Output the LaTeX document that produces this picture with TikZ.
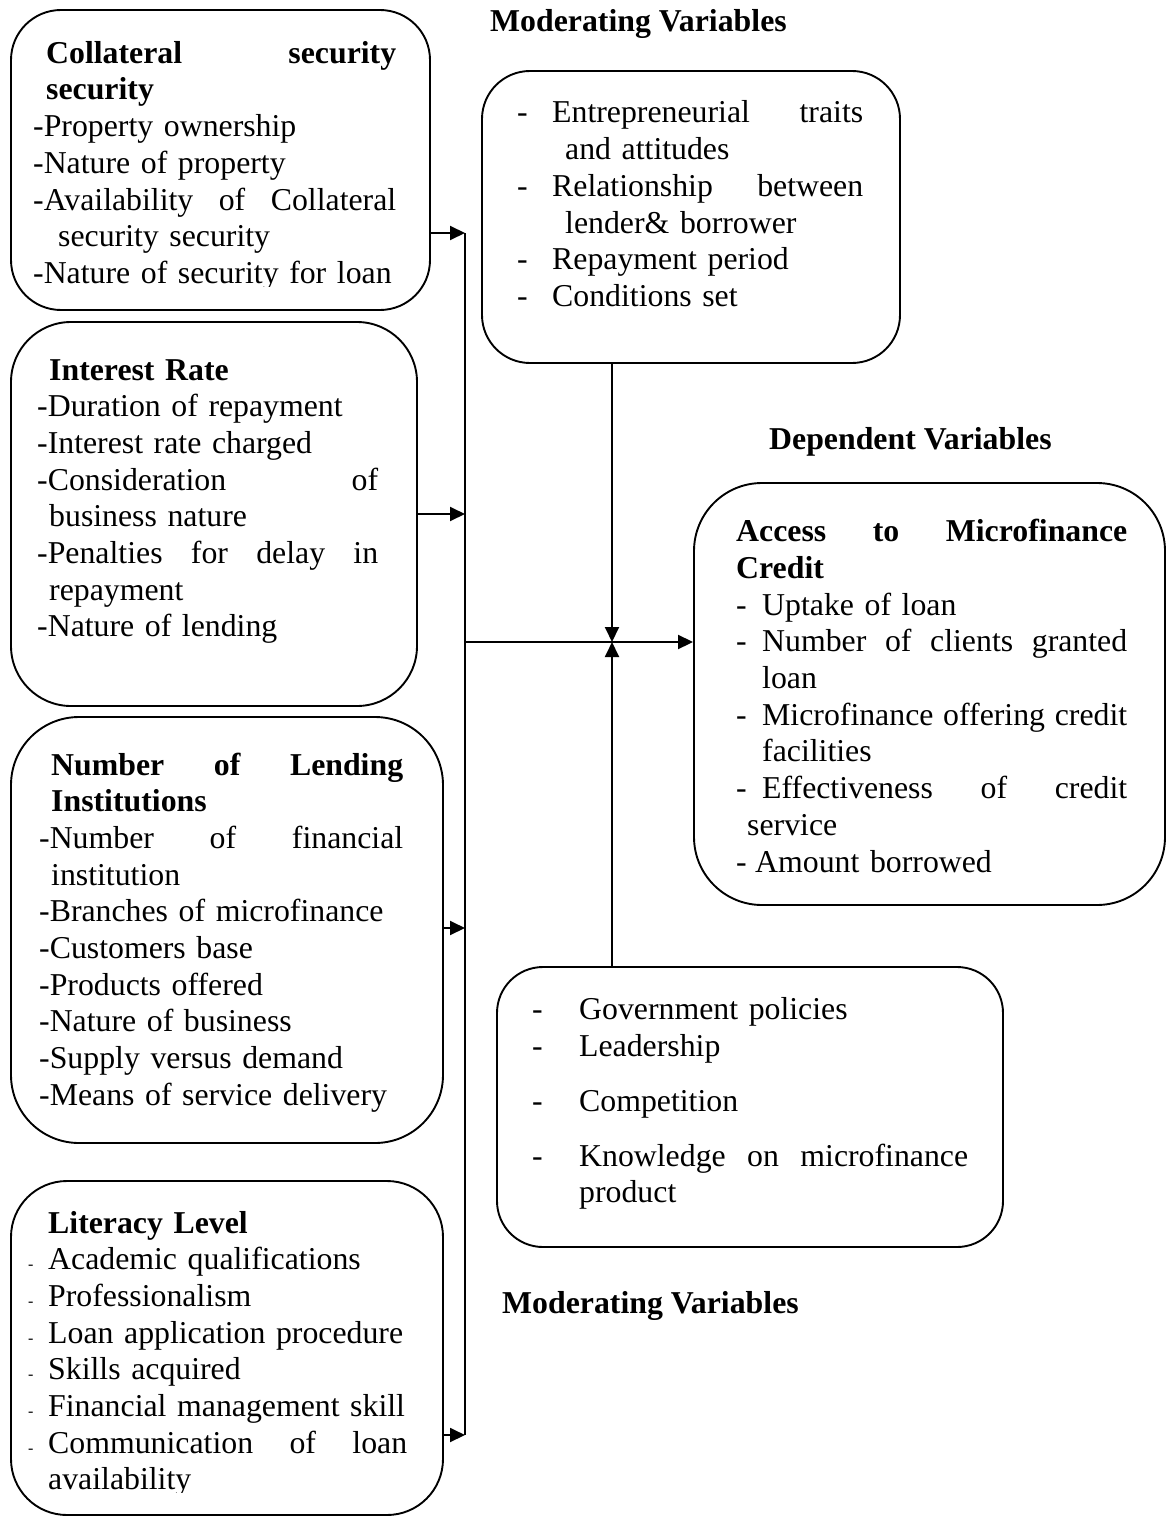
\documentclass[tikz,border=0pt]{standalone}
\usepackage{fontspec}
\setmainfont{Liberation Serif}
\usetikzlibrary{arrows.meta}
\newcommand{\itm}[1][26pt]{\makebox[#1][l]{-}}
\newcommand{\sdash}{\makebox[20pt][l]{\fontsize{16}{16}\selectfont -}}
\begin{document}
\begin{tikzpicture}[x=1pt,y=-1pt,
    box/.style={draw,line width=1.9pt,minimum width=#1,inner sep=0pt},
    txt/.style={anchor=base west,inner sep=0pt,align=left,font=\fontsize{31.8}{36.7}\selectfont},
    lbl/.style={anchor=base west,inner sep=0pt,font=\fontsize{31.8}{36.7}\selectfont\bfseries},
    arr/.style={line width=1.9pt,-{Triangle[length=15pt,width=14pt]}},
    con/.style={line width=1.9pt}]
\useasboundingbox (0,0) rectangle (1167,1517);

% boxes
\node[box=419,minimum height=300,rounded corners=50] (collat) at (220.5,160) {};
\node[box=406,minimum height=384,rounded corners=60] (interest) at (214,514) {};
\node[box=432,minimum height=426,rounded corners=68] (lending) at (227,930) {};
\node[box=432,minimum height=334,rounded corners=56] (literacy) at (227,1348) {};
\node[box=418,minimum height=292,rounded corners=48] (modtop) at (691,217) {};
\node[box=471,minimum height=422,rounded corners=68] (access) at (929.5,694) {};
\node[box=506,minimum height=280,rounded corners=46] (modbot) at (750,1107) {};

% headings
\node[lbl] (modtoplbl) at (490,32) {Moderating Variables};
\node[lbl] (deplbl) at (769,449) {Dependent Variables};
\node[lbl] (modbotlbl) at (502,1313) {Moderating Variables};

% texts
\begin{scope}
\clip (0,0) rectangle (460,286);
\node[txt,text width=363] (collattxt) at (33,63.3) {%
\hspace*{13pt}\textbf{Collateral\hfill security}\\
\hspace*{13pt}\textbf{security}\\
-Property ownership\\
-Nature of property\\
-Availability\hfill of\hfill Collateral\\
\hspace*{25pt}security security\\
-Nature of security for loan};
\end{scope}
\node[txt,text width=341] (interesttxt) at (37,380) {%
\hspace*{12pt}\textbf{Interest Rate}\\
-Duration of repayment\\
-Interest rate charged\\
-Consideration\hfill of\\
\hspace*{12pt}business nature\\
-Penalties\hfill for\hfill delay\hfill in\\
\hspace*{12pt}repayment\\
-Nature of lending};
\node[txt,text width=364] (lendingtxt) at (39,775) {%
\hspace*{12pt}\textbf{Number\hfill of\hfill Lending}\\
\hspace*{12pt}\textbf{Institutions}\\
-Number\hfill of\hfill financial\\
\hspace*{12pt}institution\\
-Branches of microfinance\\
-Customers base\\
-Products offered\\
-Nature of business\\
-Supply versus demand\\
-Means of service delivery};
\begin{scope}
\clip (0,1160) rectangle (460,1492);
\node[txt,text width=379] (literacytxt) at (28,1233) {%
\hspace*{20pt}\textbf{Literacy Level}\\
\sdash Academic qualifications\\
\sdash Professionalism\\
\sdash Loan application procedure\\
\sdash Skills acquired\\
\sdash Financial management skill\\
\sdash Communication\hfill of\hfill loan\\
\hspace*{20pt}availability};
\end{scope}
\node[txt,text width=346] (modtoptxt) at (517,123) {%
\itm[35pt]Entrepreneurial\hfill traits\\
\hspace*{48pt}and attitudes\\
\itm[35pt]Relationship\hfill between\\
\hspace*{48pt}lender\& borrower\\
\itm[35pt]Repayment period\\
\itm[35pt]Conditions set};
\node[txt,text width=391] (accesstxt) at (736,541.7) {%
\textbf{Access\hfill to\hfill Microfinance}\\
\textbf{Credit}\\
\itm Uptake of loan\\
\itm Number\hfill of\hfill clients\hfill granted\\
\hspace*{26pt}loan\\
\itm Microfinance\hfill offering\hfill credit\\
\hspace*{26pt}facilities\\
\itm Effectiveness\hfill of\hfill credit\\
\hspace*{11pt}service\\
\itm[19pt]Amount borrowed};
\node[txt,text width=436] (modbottxt) at (532,1019) {%
\itm[47pt]Government policies\\[1pt]
\itm[47pt]Leadership\\[18pt]
\itm[47pt]Competition\\[18pt]
\itm[47pt]Knowledge\hfill on\hfill microfinance\\
\hspace*{47pt}product};

% connectors
\coordinate (j1) at (465,233);
\coordinate (j2) at (465,514);
\coordinate (j3) at (465,928);
\coordinate (j4) at (465,1435);
\coordinate (hub) at (612,642);
\draw[arr] (collat.east |- j1) -- (j1);
\draw[arr] (interest.east |- j2) -- (j2);
\draw[arr] (lending.east |- j3) -- (j3);
\draw[arr] (literacy.east |- j4) -- (j4);
\draw[con] (j1) -- (j4);
\draw[arr] (j1 |- hub) -- (access.west |- hub);
\draw[arr] (modtop.south -| hub) -- (hub);
\draw[arr] (modbot.north -| hub) -- (hub);
\end{tikzpicture}
\end{document}
